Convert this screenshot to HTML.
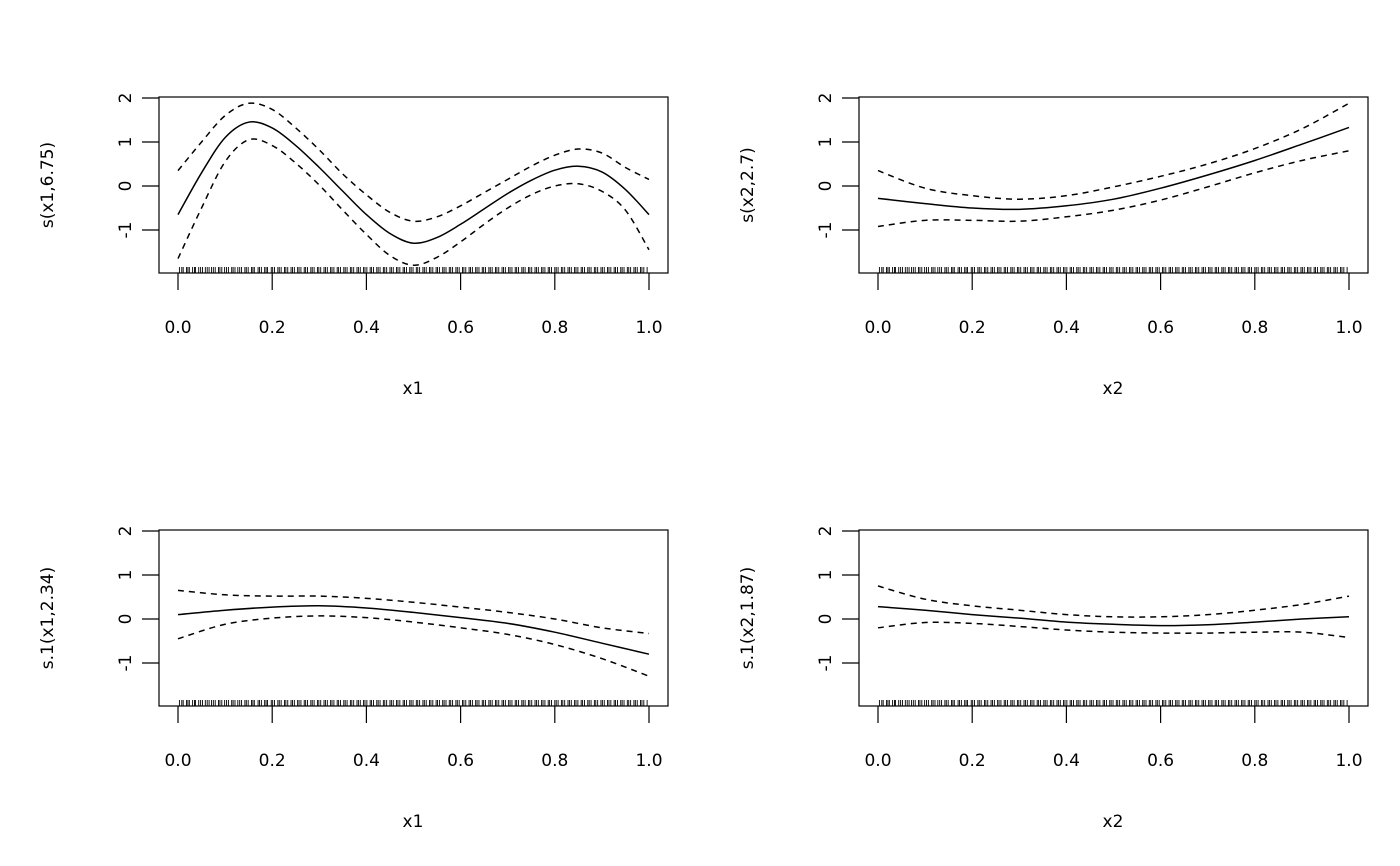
<!DOCTYPE html>
<html><head><meta charset="utf-8"><style>
body{margin:0;background:#fff}
svg{display:block;font-family:"DejaVu Sans","Liberation Sans",sans-serif}
</style></head><body>
<svg id="c" width="1400" height="866" viewBox="0 0 1400 866"></svg>
<script>
const xs=[0,0.05,0.1,0.15,0.2,0.25,0.3,0.35,0.4,0.45,0.5,0.55,0.6,0.65,0.7,0.75,0.8,0.85,0.9,0.95,1.0];
const p1Fit=[-0.65,0.3,1.1,1.45,1.32,0.92,0.42,-0.12,-0.65,-1.08,-1.3,-1.17,-0.87,-0.52,-0.17,0.13,0.36,0.45,0.32,-0.08,-0.65];
const p1Up=[0.35,1.0,1.6,1.88,1.74,1.32,0.82,0.27,-0.2,-0.6,-0.8,-0.7,-0.45,-0.15,0.15,0.45,0.7,0.84,0.75,0.42,0.15];
const p1Lo=[-1.65,-0.5,0.55,1.05,0.92,0.52,0.02,-0.55,-1.1,-1.58,-1.8,-1.62,-1.27,-0.87,-0.5,-0.2,0.0,0.05,-0.12,-0.55,-1.45];
const xs2=[0,0.1,0.2,0.3,0.4,0.5,0.6,0.7,0.8,0.9,1.0];
const p2Fit=[-0.28,-0.4,-0.5,-0.53,-0.45,-0.3,-0.05,0.25,0.58,0.95,1.33];
const p2Up=[0.35,-0.05,-0.22,-0.3,-0.22,-0.02,0.22,0.5,0.85,1.3,1.88];
const p2Lo=[-0.92,-0.78,-0.78,-0.8,-0.7,-0.55,-0.32,-0.02,0.3,0.58,0.8];
const p3Fit=[0.1,0.2,0.27,0.3,0.25,0.15,0.03,-0.1,-0.3,-0.55,-0.8];
const p3Up=[0.65,0.55,0.52,0.52,0.47,0.38,0.27,0.15,0.0,-0.2,-0.33];
const p3Lo=[-0.45,-0.12,0.02,0.07,0.03,-0.07,-0.2,-0.35,-0.58,-0.9,-1.3];
const p4Fit=[0.28,0.2,0.1,0.02,-0.07,-0.12,-0.15,-0.13,-0.07,0.0,0.05];
const p4Up=[0.75,0.45,0.3,0.2,0.1,0.05,0.05,0.1,0.2,0.33,0.52];
const p4Lo=[-0.2,-0.08,-0.1,-0.17,-0.25,-0.3,-0.32,-0.32,-0.3,-0.3,-0.42];
const xTicks=["0.0","0.2","0.4","0.6","0.8","1.0"];
const yTicks=["-1","0","1","2"];
const rug=[0.003,0.008,0.011,0.018,0.021,0.024,0.031,0.035,0.037,0.044,0.048,0.052,0.058,0.062,0.066,0.071,0.075,0.079,0.086,0.089,0.093,0.099,0.103,0.107,0.114,0.117,0.121,0.127,0.131,0.135,0.142,0.145,0.149,0.156,0.159,0.162,0.17,0.173,0.177,0.184,0.187,0.19,0.198,0.201,0.205,0.212,0.215,0.219,0.226,0.229,0.233,0.24,0.243,0.247,0.254,0.257,0.261,0.268,0.271,0.275,0.282,0.285,0.289,0.296,0.299,0.303,0.31,0.313,0.317,0.324,0.327,0.331,0.338,0.341,0.345,0.352,0.355,0.359,0.366,0.369,0.373,0.38,0.383,0.387,0.394,0.397,0.401,0.408,0.411,0.415,0.422,0.425,0.429,0.436,0.439,0.443,0.45,0.453,0.457,0.464,0.467,0.471,0.478,0.481,0.485,0.492,0.495,0.499,0.506,0.509,0.513,0.52,0.523,0.527,0.534,0.537,0.541,0.548,0.551,0.555,0.562,0.565,0.569,0.576,0.579,0.583,0.59,0.593,0.597,0.604,0.607,0.611,0.618,0.621,0.625,0.632,0.635,0.639,0.646,0.649,0.653,0.66,0.663,0.667,0.674,0.677,0.681,0.688,0.691,0.695,0.702,0.705,0.709,0.716,0.719,0.723,0.73,0.733,0.737,0.744,0.747,0.751,0.758,0.761,0.765,0.772,0.775,0.779,0.786,0.789,0.793,0.8,0.803,0.807,0.814,0.817,0.821,0.828,0.831,0.835,0.842,0.845,0.849,0.856,0.859,0.863,0.87,0.873,0.877,0.884,0.887,0.891,0.898,0.901,0.905,0.912,0.915,0.919,0.926,0.929,0.933,0.94,0.943,0.947,0.954,0.957,0.961,0.968,0.971,0.975,0.982,0.985,0.989,0.996];
const svg=document.getElementById('c');const NS='http://www.w3.org/2000/svg';
function mk(t,a,p){const e=document.createElementNS(NS,t);for(const k in a)e.setAttribute(k,a[k]);(p||svg).appendChild(e);return e;}
function path(pts){let d='M'+pts[0][0]+','+pts[0][1];for(let i=0;i<pts.length-1;i++){const p0=pts[Math.max(0,i-1)],p1=pts[i],p2=pts[i+1],p3=pts[Math.min(pts.length-1,i+2)];d+=' C'+(p1[0]+(p2[0]-p0[0])/6)+','+(p1[1]+(p2[1]-p0[1])/6)+' '+(p2[0]-(p3[0]-p1[0])/6)+','+(p2[1]-(p3[1]-p1[1])/6)+' '+p2[0]+','+p2[1];}return d;}
const panels=[
 {ox:0,oy:0,xv:xs,f:p1Fit,u:p1Up,l:p1Lo,yl:"s(x1,6.75)",xl:"x1"},
 {ox:700,oy:0,xv:xs2,f:p2Fit,u:p2Up,l:p2Lo,yl:"s(x2,2.7)",xl:"x2"},
 {ox:0,oy:433,xv:xs2,f:p3Fit,u:p3Up,l:p3Lo,yl:"s.1(x1,2.34)",xl:"x1"},
 {ox:700,oy:433,xv:xs2,f:p4Fit,u:p4Up,l:p4Lo,yl:"s.1(x2,1.87)",xl:"x2"}];
panels.forEach((P,pi)=>{
 const g=mk('g',{});
 
 
 const X=v=>178+P.ox+v*471, Y=v=>186+P.oy-v*44;
 const box=mk('rect',{x:159+P.ox,y:97+P.oy,width:509,height:176,fill:'none',stroke:'#000','stroke-width':1.2},g);
 
 xTicks.forEach((t,i)=>{const v=i*0.2;mk('line',{x1:X(v),x2:X(v),y1:273+P.oy,y2:290+P.oy,stroke:'#000','stroke-width':1.2},g);
  const tx=mk('text',{x:X(v),y:333+P.oy,'text-anchor':'middle','font-size':17},g);tx.textContent=t;
  });
 yTicks.forEach(t=>{const v=+t;mk('line',{x1:142+P.ox,x2:159+P.ox,y1:Y(v),y2:Y(v),stroke:'#000','stroke-width':1.2},g);
  const tx=mk('text',{x:0,y:0,'text-anchor':'middle','font-size':17,transform:`translate(${131+P.ox},${Y(v)}) rotate(-90)`},g);tx.textContent=t;
  });
 const xt=mk('text',{x:413+P.ox,y:394+P.oy,'text-anchor':'middle','font-size':17},g);xt.textContent=P.xl;
 
 const yt=mk('text',{x:0,y:0,'text-anchor':'middle','font-size':17,transform:`translate(${53+P.ox},${185+P.oy}) rotate(-90)`},g);yt.textContent=P.yl;
 
 rug.forEach(r=>{const rl=mk('line',{x1:X(r),x2:X(r),y1:267+P.oy,y2:273+P.oy,stroke:'#000','stroke-width':0.9},g);
  });
 [[P.f,''],[P.u,'6,5'],[P.l,'6,5']].forEach(([arr,da],k)=>{
  const pts=P.xv.map((x,i)=>[X(x),Y(arr[i])]);
  const pa=mk('path',{d:path(pts),fill:'none',stroke:'#000','stroke-width':1.5,'stroke-dasharray':da||'none'},g);
  
  
 });
});
</script>
</body></html>
